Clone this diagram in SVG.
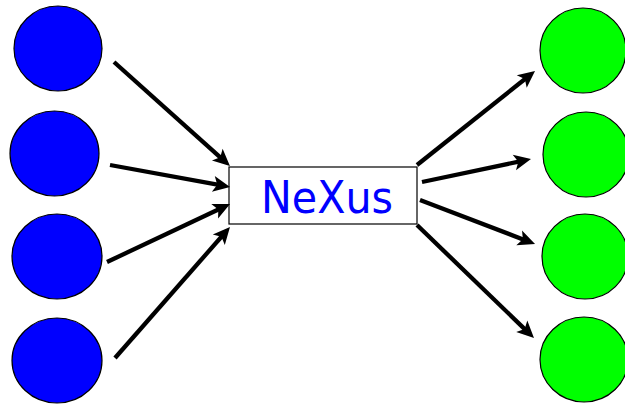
<svg xmlns="http://www.w3.org/2000/svg" width="625" height="405" viewBox="0 0 625 405">
<style>
.src{fill:#0000ff;stroke:#000;stroke-width:1.2}
.dst{fill:#00ff00;stroke:#000;stroke-width:1.2}
.box{fill:#fff;stroke:#000;stroke-width:1.2}
.lbl{font-family:"DejaVu Sans",sans-serif;font-size:45px;fill:#0000ff}
.conn line{stroke:#000;stroke-width:4.3;fill:none;marker-end:url(#ah)}
</style>
<defs>
<marker id="ah" markerUnits="userSpaceOnUse" orient="auto" viewBox="-8 -10 20 20" markerWidth="20" markerHeight="20" refX="0" refY="0">
<path d="M -7 -8 L 10 0 L -7 8 L -3 0 Z" fill="#000"/>
</marker>
</defs>
<rect width="625" height="405" fill="#fff"/>
<g id="in1"><ellipse class="src" cx="58" cy="48.5" rx="44" ry="42.5"/></g>
<g id="in2"><ellipse class="src" cx="54.5" cy="153.5" rx="44.5" ry="42.5"/></g>
<g id="in3"><ellipse class="src" cx="57" cy="256.5" rx="45" ry="42.5"/></g>
<g id="in4"><ellipse class="src" cx="57" cy="360.5" rx="45" ry="42.5"/></g>
<g id="out1"><ellipse class="dst" cx="583" cy="50.5" rx="43" ry="42.5"/></g>
<g id="out2"><ellipse class="dst" cx="586" cy="154.5" rx="43" ry="42.5"/></g>
<g id="out3"><ellipse class="dst" cx="585" cy="256.5" rx="43" ry="42.5"/></g>
<g id="out4"><ellipse class="dst" cx="584" cy="359.5" rx="44" ry="42.5"/></g>
<g id="nexus">
<rect class="box" x="229" y="167" width="188" height="57"/>
<text class="lbl" x="327" y="213" text-anchor="middle" textLength="132" lengthAdjust="spacingAndGlyphs">NeXus</text>
</g>
<g id="connectors" class="conn">
<line x1="114" y1="62" x2="222.5" y2="159.3"/>
<line x1="110" y1="165" x2="220.2" y2="185.2"/>
<line x1="107" y1="262" x2="221" y2="208.3"/>
<line x1="115" y1="358" x2="223.4" y2="234.5"/>
<line x1="417" y1="165" x2="527.2" y2="77.2"/>
<line x1="422" y1="182" x2="521.2" y2="161.1"/>
<line x1="420" y1="200" x2="525.7" y2="240.4"/>
<line x1="417" y1="225" x2="526.8" y2="331.1"/>
</g>
</svg>
